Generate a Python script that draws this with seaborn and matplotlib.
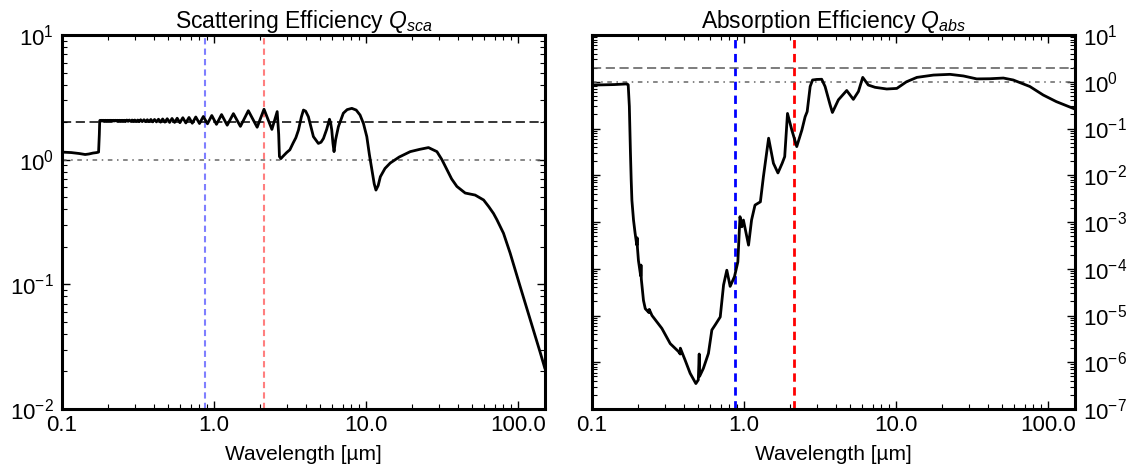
import numpy as np
import pandas as pd
import matplotlib
matplotlib.use("Agg")
import matplotlib.pyplot as plt
import matplotlib.ticker as mticker
import seaborn as sns

# ---------------------------------------------------------------- data
# Scattering efficiency: flat UV part, ripple (peaks / troughs), IR part
sca_wave_uv = [0.100, 0.115, 0.130, 0.142, 0.150, 0.160, 0.169, 0.174, 0.176, 0.177]
sca_uv = [1.15, 1.14, 1.12, 1.10, 1.11, 1.13, 1.14, 1.15, 1.60, 2.05]

sca_peak_wave = [0.178, 0.183, 0.188, 0.193, 0.199, 0.204, 0.210, 0.217, 0.224, 0.231,
                 0.239, 0.248, 0.257, 0.267, 0.277, 0.289, 0.301, 0.315, 0.329, 0.346,
                 0.364, 0.384, 0.406, 0.431, 0.459, 0.492, 0.529, 0.572, 0.623, 0.684,
                 0.758, 0.850, 0.966, 1.12, 1.34, 1.68, 2.13, 2.60]
sca_peak = [2.07, 2.07, 2.07, 2.07, 2.07, 2.07, 2.07, 2.07, 2.07, 2.07,
            2.07, 2.07, 2.07, 2.08, 2.08, 2.08, 2.08, 2.08, 2.09, 2.09,
            2.09, 2.10, 2.10, 2.11, 2.12, 2.13, 2.14, 2.15, 2.17, 2.18,
            2.20, 2.22, 2.26, 2.30, 2.34, 2.47, 2.54, 2.43]

sca_trough_wave = [0.181, 0.185, 0.190, 0.196, 0.201, 0.207, 0.214, 0.220, 0.228, 0.235,
                   0.243, 0.252, 0.262, 0.272, 0.283, 0.295, 0.308, 0.322, 0.337, 0.355,
                   0.373, 0.395, 0.418, 0.445, 0.475, 0.510, 0.550, 0.596, 0.652, 0.719,
                   0.802, 0.905, 1.037, 1.22, 1.49, 1.92, 2.40]
sca_trough = [2.04, 2.04, 2.04, 2.04, 2.04, 2.04, 2.04, 2.04, 2.04, 2.04,
              2.04, 2.04, 2.03, 2.03, 2.03, 2.03, 2.03, 2.02, 2.02, 2.02,
              2.02, 2.01, 2.01, 2.00, 2.00, 1.99, 1.99, 1.98, 1.97, 1.96,
              1.95, 1.94, 1.92, 1.89, 1.85, 1.82, 1.75]

sca_wave_ir = [2.66, 2.69, 2.75, 2.83, 3.00, 3.15, 3.31, 3.45, 3.59, 3.75,
               3.87, 4.00, 4.17, 4.50, 4.85, 5.05, 5.24, 5.50, 5.74, 5.85,
               5.94, 6.05, 6.15, 6.30, 6.57, 7.08, 7.50, 8.05, 8.60, 9.12,
               9.60, 10.1, 10.5, 10.9, 11.3, 11.6, 12.0, 12.4, 13.3, 14.4,
               16.5, 19.5, 22.5, 25.7, 29.2, 31.5, 34.0, 36.5, 39.5, 44.8,
               52.1, 59.2, 64.0, 68.8, 72.4, 80.0, 88.5, 103.0, 120.0, 140.0,
               150.0]
sca_ir = [1.60, 1.06, 1.02, 1.06, 1.14, 1.20, 1.36, 1.50, 1.73, 2.20,
          2.50, 2.45, 2.21, 1.53, 1.35, 1.38, 1.48, 1.75, 2.11, 1.95,
          1.73, 1.35, 1.16, 1.45, 1.84, 2.36, 2.52, 2.58, 2.50, 2.28,
          1.95, 1.53, 1.10, 0.83, 0.64, 0.57, 0.62, 0.73, 0.85, 0.94,
          1.05, 1.16, 1.21, 1.25, 1.16, 1.00, 0.83, 0.70, 0.61, 0.54,
          0.52, 0.475, 0.42, 0.37, 0.33, 0.257, 0.178, 0.096, 0.052, 0.028,
          0.021]

# Absorption efficiency
abs_wave = [0.100, 0.120, 0.140, 0.160, 0.170, 0.173, 0.176, 0.179, 0.181, 0.183,
            0.1875, 0.192, 0.197, 0.198, 0.199, 0.202, 0.209, 0.210, 0.211, 0.218,
            0.224, 0.237, 0.238, 0.248, 0.288, 0.327, 0.370, 0.380, 0.381, 0.410,
            0.442, 0.482, 0.500, 0.507, 0.510, 0.540, 0.583, 0.614, 0.646, 0.697,
            0.733, 0.770, 0.810, 0.865, 0.910, 0.940, 0.967, 0.990, 1.07, 1.12,
            1.18, 1.28, 1.34, 1.45, 1.56, 1.67, 1.78, 1.85, 1.93, 2.06,
            2.22, 2.40, 2.52, 2.60, 2.72, 2.82, 3.00, 3.24, 3.41, 3.68,
            3.81, 4.17, 4.73, 5.23, 5.65, 6.03, 6.56, 7.27, 8.67, 10.1,
            11.7, 13.7, 17.6, 22.6, 27.7, 33.9, 41.4, 50.7, 58.9, 75.8,
            92.7, 113.0, 150.0]
abs_q = [0.85, 0.86, 0.87, 0.89, 0.90, 0.86, 0.30, 0.03, 8e-3, 2.9e-3,
         1.1e-3, 5.8e-4, 3.2e-4, 4.6e-4, 2.8e-4, 1.5e-4, 7.0e-5, 1.2e-4, 6.0e-5, 2.1e-5,
         1.4e-5, 1.15e-5, 1.35e-5, 1.0e-5, 5.3e-6, 2.5e-6, 1.7e-6, 1.5e-6, 2.0e-6, 1.1e-6,
         5.8e-7, 3.5e-7, 4.2e-7, 1.5e-6, 5.0e-7, 7.4e-7, 1.55e-6, 4.9e-6, 6.3e-6, 9.3e-6,
         4.5e-5, 9.3e-5, 4.2e-5, 6.8e-5, 1.4e-4, 1.3e-3, 7.9e-4, 1.1e-3, 3.2e-4, 1.1e-3,
         2.3e-3, 2.7e-3, 9.3e-3, 6.2e-2, 1.8e-2, 1.12e-2, 1.8e-2, 2.5e-2, 0.21, 0.093,
         0.041, 0.093, 0.178, 0.23, 0.79, 1.09, 1.12, 1.13, 0.79, 0.32,
         0.22, 0.41, 0.65, 0.42, 0.62, 1.24, 0.85, 0.76, 0.70, 0.72,
         1.00, 1.24, 1.39, 1.44, 1.33, 1.15, 1.16, 1.20, 1.09, 0.79,
         0.52, 0.376, 0.26]

# reference levels and band wavelengths
q_geometric = 2.0
q_unity = 1.0
band_blue = 0.87
band_red = 2.12

x_ticks = [0.1, 1.0, 10.0, 100.0]
x_tick_labels = ["0.1", "1.0", "10.0", "100.0"]

# ---------------------------------------------------------------- style
sns.set_style("ticks")
plt.rcParams["font.family"] = ["Liberation Sans", "DejaVu Sans"]
plt.rcParams["mathtext.fontset"] = "custom"
plt.rcParams["mathtext.rm"] = "Liberation Sans"
plt.rcParams["mathtext.it"] = "Liberation Sans:italic"
plt.rcParams["mathtext.bf"] = "Liberation Sans:bold"
for key in ("text.color", "axes.labelcolor", "xtick.color", "ytick.color", "axes.edgecolor"):
    plt.rcParams[key] = "black"

sca_df = pd.DataFrame({
    "wavelength": sca_wave_uv + sca_peak_wave + sca_trough_wave + sca_wave_ir,
    "Q": sca_uv + sca_peak + sca_trough + sca_ir,
}).sort_values("wavelength")
abs_df = pd.DataFrame({"wavelength": abs_wave, "Q": abs_q})

W, H = 1133, 468
fig = plt.figure(figsize=(W / 100, H / 100), dpi=100)
ax_sca = fig.add_axes([62 / W, 59 / H, 483 / W, 374 / H])
ax_abs = fig.add_axes([592 / W, 59 / H, 483 / W, 374 / H])


def style_axes(ax, ylim, label_right=False):
    ax.set_xscale("log")
    ax.set_yscale("log")
    ax.set_xlim(0.1, 150)
    ax.set_ylim(*ylim)
    ax.xaxis.set_major_locator(mticker.FixedLocator(x_ticks))
    ax.xaxis.set_major_formatter(mticker.FixedFormatter(x_tick_labels))
    ax.xaxis.set_minor_locator(mticker.LogLocator(base=10, subs=np.arange(2, 10), numticks=100))
    ax.xaxis.set_minor_formatter(mticker.NullFormatter())
    ax.yaxis.set_major_locator(mticker.LogLocator(base=10, numticks=100))
    ax.yaxis.set_major_formatter(mticker.FuncFormatter(lambda v, p: r"$10^{%d}$" % round(np.log10(v))))
    ax.yaxis.set_minor_locator(mticker.LogLocator(base=10, subs=np.arange(2, 10), numticks=100))
    ax.yaxis.set_minor_formatter(mticker.NullFormatter())
    ax.tick_params(which="both", direction="in", top=True, bottom=True, left=True, right=True,
                   labelsize=16, color="k", labelcolor="k")
    ax.tick_params(which="major", length=6, width=1.0)
    ax.tick_params(which="minor", length=3.5, width=0.8)
    ax.tick_params(axis="x", which="major", pad=4.5)
    ax.tick_params(axis="y", which="major", pad=6)
    if label_right:
        ax.tick_params(axis="y", labelleft=False, labelright=True)
    for s in ax.spines.values():
        s.set_linewidth(2.2)
        s.set_color("k")
    ax.set_xlabel("Wavelength [µm]", fontsize=15, labelpad=6)
    ax.set_ylabel("")


# ---- scattering panel
ax_sca.axvline(band_blue, color="b", alpha=0.5, lw=1.5, linestyle=(0, (3, 2)))
ax_sca.axvline(band_red, color="r", alpha=0.5, lw=1.5, linestyle=(0, (3, 2)))
ax_sca.axhline(q_geometric, color="k", lw=1.1, linestyle=(0, (6, 3)))
ax_sca.axhline(q_unity, color="0.4", lw=1.1, linestyle=(0, (3, 3, 1, 3)))
sns.lineplot(data=sca_df, x="wavelength", y="Q", ax=ax_sca, color="k", linewidth=2,
             estimator=None, sort=True)
style_axes(ax_sca, (1e-2, 1e1))
ax_sca.set_title(r"Scattering Efficiency $Q_{sca}$", fontsize=16.5, pad=4)

# ---- absorption panel
ax_abs.axvline(band_blue, color="b", lw=2, linestyle=(0, (3, 2)))
ax_abs.axvline(band_red, color="r", lw=2, linestyle=(0, (3, 2)))
ax_abs.axhline(q_geometric, color="0.35", lw=1.1, linestyle=(0, (6, 3)))
ax_abs.axhline(q_unity, color="0.4", lw=1.1, linestyle=(0, (3, 3, 1, 3)))
sns.lineplot(data=abs_df, x="wavelength", y="Q", ax=ax_abs, color="k", linewidth=2,
             estimator=None, sort=True)
style_axes(ax_abs, (1e-7, 1e1), label_right=True)
ax_abs.set_title(r"Absorption Efficiency $Q_{abs}$", fontsize=16.5, pad=4)

fig.savefig("out.png", dpi=100)
